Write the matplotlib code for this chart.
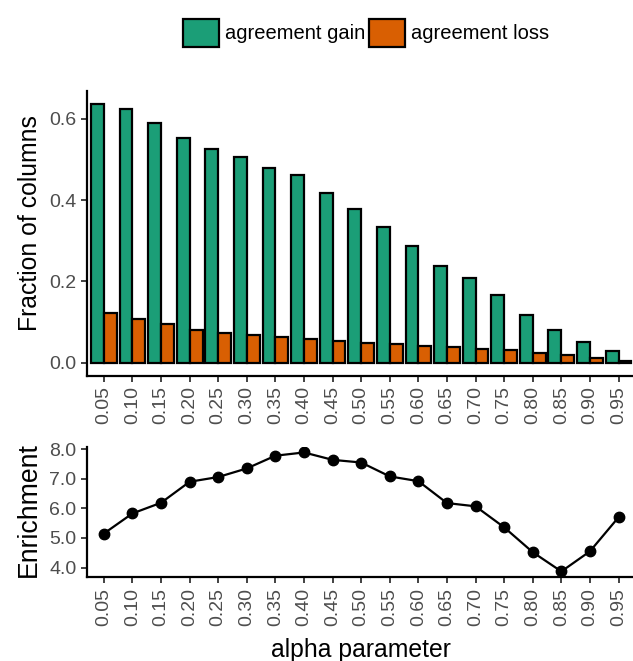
import matplotlib
matplotlib.use("Agg")
import matplotlib.pyplot as plt
from matplotlib.patches import Patch
import numpy as np

plt.rcParams['font.family'] = ['Liberation Sans', 'DejaVu Sans']

alpha_labels = ["0.05", "0.10", "0.15", "0.20", "0.25", "0.30", "0.35", "0.40", "0.45", "0.50",
                "0.55", "0.60", "0.65", "0.70", "0.75", "0.80", "0.85", "0.90", "0.95"]
agreement_gain = [0.637, 0.624, 0.589, 0.553, 0.526, 0.506, 0.480, 0.462, 0.418, 0.379,
                  0.334, 0.287, 0.239, 0.208, 0.167, 0.117, 0.081, 0.051, 0.028]
agreement_loss = [0.123, 0.107, 0.095, 0.080, 0.074, 0.068, 0.062, 0.058, 0.053, 0.049,
                  0.046, 0.041, 0.039, 0.034, 0.031, 0.025, 0.020, 0.012, 0.004]
enrichment = [5.15, 5.83, 6.19, 6.90, 7.06, 7.35, 7.78, 7.89, 7.64, 7.55,
              7.08, 6.92, 6.18, 6.07, 5.36, 4.52, 3.87, 4.55, 5.70]
series_names = ["agreement gain", "agreement loss"]
series_colors = ["#1B9E77", "#D95F02"]

W, H = 633, 661
fig = plt.figure(figsize=(W / 100, H / 100), dpi=100)

def px_axes(x0, y0, x1, y1):
    return fig.add_axes([x0 / W, 1 - y1 / H, (x1 - x0) / W, (y1 - y0) / H])

ax1 = px_axes(86.7, 91.0, 635.7, 375.6)
ax2 = px_axes(86.7, 446.5, 635.7, 577.4)

title_size = 17.8
x = np.arange(len(alpha_labels))
bw = 0.45
ax1.bar(x - bw / 2, agreement_gain, width=bw, color=series_colors[0], edgecolor='black', linewidth=1.6)
ax1.bar(x + bw / 2, agreement_loss, width=bw, color=series_colors[1], edgecolor='black', linewidth=1.6)

ymax = max(agreement_gain)
ax1.set_ylim(-0.05 * ymax, ymax * 1.05)
ax1.set_yticks([0.0, 0.2, 0.4, 0.6])
ax1.set_yticklabels(["0.0", "0.2", "0.4", "0.6"])
ax1.set_ylabel("Fraction of columns", fontsize=title_size)
ax1.yaxis.set_label_coords(-0.0814, 0.535)

ax2.plot(x, enrichment, color='black', linewidth=1.6, marker='o', markersize=7.5)
emin, emax = min(enrichment), max(enrichment)
pad = 0.05 * (emax - emin)
ax2.set_ylim(emin - pad, emax + pad)
ax2.set_yticks([4, 5, 6, 7, 8])
ax2.set_yticklabels(["4.0", "5.0", "6.0", "7.0", "8.0"])
ax2.set_ylabel("Enrichment", fontsize=19.2)
ax2.yaxis.set_label_coords(-0.0814, 0.52)
ax2.set_xlabel("alpha parameter", fontsize=title_size, labelpad=8.5)

for ax in (ax1, ax2):
    ax.set_xlim(-0.6, len(alpha_labels) - 1 + 0.6)
    ax.set_xticks(x)
    ax.set_xticklabels(alpha_labels, rotation=90)
    for s in ('top', 'right'):
        ax.spines[s].set_visible(False)
    for s in ('left', 'bottom'):
        ax.spines[s].set_linewidth(1.6)
        ax.spines[s].set_color('black')
    ax.tick_params(axis='both', direction='out', length=4.5, width=1.3, color='#333333',
                   labelsize=14, labelcolor='#4D4D4D', pad=3)

handles = [Patch(facecolor=c, edgecolor='black', linewidth=1.6, label=n)
           for c, n in zip(series_colors, series_names)]
fig.legend(handles=handles, loc='center', bbox_to_anchor=(366 / W, 1 - 33 / H), ncol=2,
           frameon=False, fontsize=14.5, handlelength=1.8, handleheight=1.8,
           handletextpad=0.3, columnspacing=0.2, borderpad=0)

fig.savefig("out.png", dpi=100)
